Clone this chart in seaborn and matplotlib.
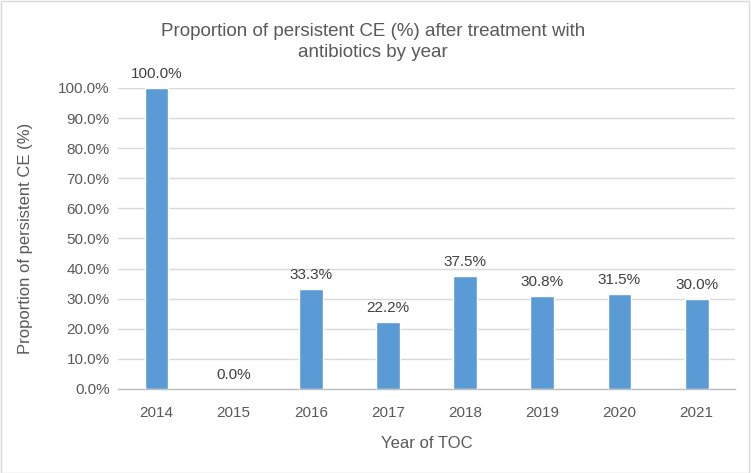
import matplotlib
matplotlib.use("Agg")
import matplotlib.pyplot as plt
import seaborn as sns
import pandas as pd
from matplotlib.patches import Rectangle
from matplotlib.ticker import FuncFormatter, FixedLocator

# chart data
years = ["2014", "2015", "2016", "2017", "2018", "2019", "2020", "2021"]
persistent_pct = [100.0, 0.0, 33.3, 22.2, 37.5, 30.8, 31.5, 30.0]

df = pd.DataFrame({"year": years, "pct": persistent_pct})

sns.set_style("white")
plt.rcParams["font.family"] = ["Liberation Sans", "DejaVu Sans"]
text_col = "#595959"

fig = plt.figure(figsize=(7.51, 4.73), dpi=100)
ax = fig.add_axes([0.157, 0.1776, 0.822, 0.6364])

sns.barplot(data=df, x="year", y="pct", color="#5B9BD5", width=0.31,
            saturation=1, ax=ax, zorder=3)

ax.set_ylim(0, 100)
ax.set_xlim(-0.5, len(years) - 0.5)
ax.set_yticks(range(0, 101, 10))
ax.yaxis.set_major_formatter(FuncFormatter(lambda v, p: f"{v:.1f}%"))
ax.grid(axis="y", color="#D9D9D9", linewidth=1, zorder=0)
ax.set_axisbelow(True)

for s in ["top", "right", "left"]:
    ax.spines[s].set_visible(False)
ax.spines["bottom"].set_color("#BFBFBF")
ax.spines["bottom"].set_linewidth(1)

ax.tick_params(axis="y", length=0, labelsize=11, labelcolor=text_col, pad=6)
ax.tick_params(axis="x", which="major", length=0, labelsize=11,
               labelcolor=text_col, pad=12)
ax.xaxis.set_minor_locator(FixedLocator([i - 0.5 for i in range(len(years) + 1)]))
ax.tick_params(axis="x", which="minor", length=5, color="#BFBFBF", width=1,
               direction="out")

for i, v in enumerate(persistent_pct):
    ax.annotate(f"{v:.1f}%", (i, v), xytext=(0, 5), textcoords="offset points",
                ha="center", va="bottom", fontsize=11, color="#404040")

ax.set_xlabel("Year of TOC", fontsize=12, color=text_col, labelpad=12)
ax.set_ylabel("Proportion of persistent CE (%)", fontsize=12, color=text_col,
              labelpad=18)

fig.text(0.497, 0.912, "Proportion of persistent CE (%) after treatment with\nantibiotics by year",
         ha="center", va="center", fontsize=13.5, color=text_col, linespacing=1.3)

fig.patches.append(Rectangle((0.001, 0.001), 0.997, 0.997, transform=fig.transFigure,
                             fill=False, edgecolor="#D9D9D9", linewidth=1))

fig.savefig("out.png", dpi=100)
